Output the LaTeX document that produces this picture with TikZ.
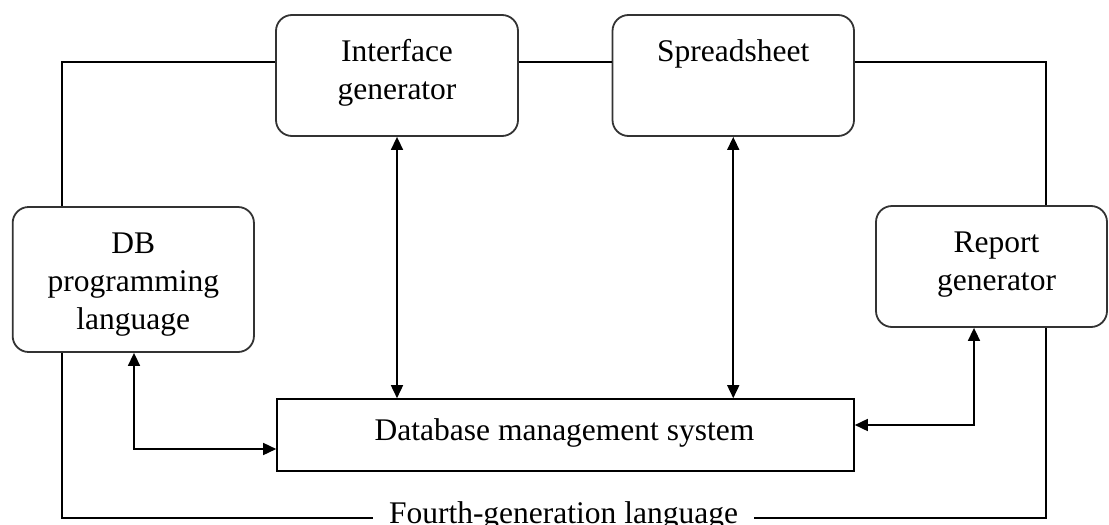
\documentclass[tikz,border=0pt]{standalone}
\usepackage{fontspec}
\setmainfont{Liberation Serif}
\usetikzlibrary{arrows.meta}
\newcommand{\bxt}[3]{\parbox[c][#2][t]{#1}{\centering\rule{0pt}{45pt}#3}}
\begin{document}
\begin{tikzpicture}[x=1pt,y=1pt,
  every node/.style={font=\fontsize{31.5}{38}\selectfont, inner sep=0pt},
  rbox/.style={draw=black!80, line width=1.8pt, rounded corners=16pt},
  sbox/.style={draw=black, line width=1.6pt},
  conn/.style={draw=black, line width=1.6pt},
  biarrow/.style={conn, {Triangle[length=13pt,width=12pt]}-{Triangle[length=13pt,width=12pt]}}]
\useasboundingbox (0,0) rectangle (1109,-525);
\fill[white] (0,0) rectangle (1109,-525);

\node[rbox, minimum width=242pt, minimum height=121pt] (ig) at (397,-75.5)
  {\bxt{236pt}{118pt}{Interface\\generator}};
\node[rbox, minimum width=241.5pt, minimum height=121pt] (ss) at (733.25,-75.5)
  {\bxt{236pt}{118pt}{Spreadsheet}};
\node[rbox, minimum width=241.3pt, minimum height=145pt] (db) at (133.3,-279.5)
  {\bxt{236pt}{142pt}{DB\\programming\\language}};
\node[rbox, minimum width=231pt, minimum height=121pt] (rg) at (991.5,-266.5)
  {\bxt{225pt}{118pt}{\hspace*{10pt}Report\\\hspace*{10pt}generator}};
\node[sbox, minimum width=577pt, minimum height=72pt] (dbms) at (565.5,-435) {};
\node[anchor=base] (dbmst) at (564.5,-440) {Database management system};
\node[text height=10pt, text depth=0pt, inner xsep=16pt] (fgl) at (563.5,-518)
  {Fourth-generation language};

\coordinate (tl) at (62,-62);
\coordinate (tr) at (1046,-62);
\coordinate (bl) at (62,-518);
\coordinate (br) at (1046,-518);
\coordinate (da) at (134,-449);
\coordinate (ra) at (974,-425);

\draw[conn] (db.north -| tl) -- (tl) -- (ig.west |- tl);
\draw[conn] (ig.east |- tl) -- (ss.west |- tl);
\draw[conn] (ss.east |- tl) -- (tr) -- (rg.north -| tr);
\draw[conn] (db.south -| bl) -- (bl) -- (fgl.west);
\draw[conn] (fgl.east) -- (br) -- (rg.south -| br);

\draw[biarrow] (ig.south) -- (ig.south |- dbms.north);
\draw[biarrow] (ss.south) -- (ss.south |- dbms.north);
\draw[biarrow] (db.south -| da) -- (da) -- (dbms.west |- da);
\draw[biarrow] (dbms.east |- ra) -- (ra) -- (rg.south -| ra);
\end{tikzpicture}
\end{document}
